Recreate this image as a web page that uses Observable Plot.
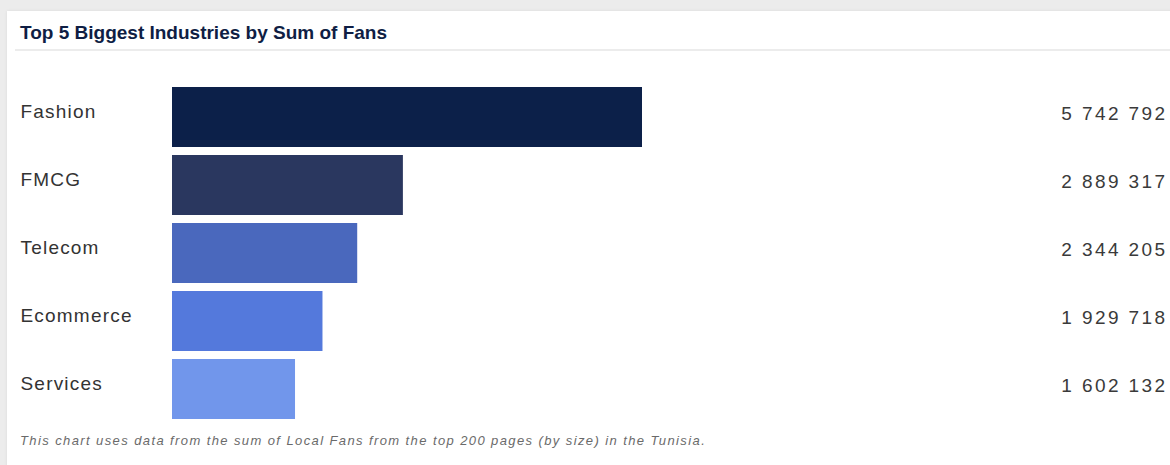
<!DOCTYPE html>
<html>
<head>
<meta charset="utf-8">
<script src="https://cdn.jsdelivr.net/npm/d3@7"></script>
<script src="https://cdn.jsdelivr.net/npm/@observablehq/plot@0.6"></script>
<style>
  html, body { margin: 0; padding: 0; }
  body { width: 1170px; height: 465px; background: #ececec; position: relative; overflow: hidden; font-family: "Liberation Sans", Arial, sans-serif; }
  #card { position: absolute; left: 7px; top: 11px; width: 1180px; height: 470px; background: #fff; box-shadow: 0 0 3px rgba(0,0,0,0.08); }
  #title { position: absolute; left: 20px; top: 22px; font-size: 19px; font-weight: bold; color: #0f1e44; white-space: nowrap; }
  #rule { position: absolute; left: 15px; top: 49px; width: 1160px; height: 2px; background: #ececec; }
  #chart { position: absolute; left: 0; top: 70px; }
  #chart svg { background: transparent; }
  .cats text { letter-spacing: 1.2px; }
  .vals text { letter-spacing: 2.4px; }
  #caption { position: absolute; left: 20px; top: 433px; font-size: 13px; font-style: italic; color: #6a6a6a; white-space: nowrap; letter-spacing: 1.4px; }
</style>
</head>
<body>
<div id="card"></div>
<div id="title">Top 5 Biggest Industries by Sum of Fans</div>
<div id="rule"></div>
<div id="chart"></div>
<div id="caption">This chart uses data from the sum of Local Fans from the top 200 pages (by size) in the Tunisia.</div>
<script>
const industries = ["Fashion", "FMCG", "Telecom", "Ecommerce", "Services"];
const fans = [5742792, 2889317, 2344205, 1929718, 1602132];
const barColors = ["#0c2049", "#2a375f", "#4a68bd", "#5479dc", "#7196eb"];
const xBase = 134000; // scale baseline where the bars begin

const data = industries.map((name, i) => ({name, fans: fans[i]}));
const fmt = v => d3.format(",")(v).replace(/,/g, " ");

const chart = Plot.plot({
  width: 1170,
  height: 355,
  marginTop: 17,
  marginBottom: 6,
  marginLeft: 172,
  marginRight: 3,
  style: {fontFamily: "Liberation Sans, Arial, sans-serif", background: "transparent"},
  x: {domain: [xBase, 12008000], axis: null},
  y: {domain: industries, paddingInner: 8 / 68, paddingOuter: 0, label: null},
  color: {domain: industries, range: barColors},
  marks: [
    Plot.barX(data, {y: "name", x1: () => xBase, x2: "fans", fill: "name"}),
    Plot.axisY({tickSize: 0, tickPadding: 152, textAnchor: "start", fontSize: 19, fill: "#333", lineAnchor: "bottom", label: null, className: "cats"}),
    Plot.text(data, {y: "name", text: d => fmt(d.fans), frameAnchor: "right", textAnchor: "end", lineAnchor: "bottom", dy: 2, fontSize: 19, fill: "#3a3a3a", className: "vals"})
  ]
});
document.getElementById("chart").appendChild(chart);
</script>
</body>
</html>
